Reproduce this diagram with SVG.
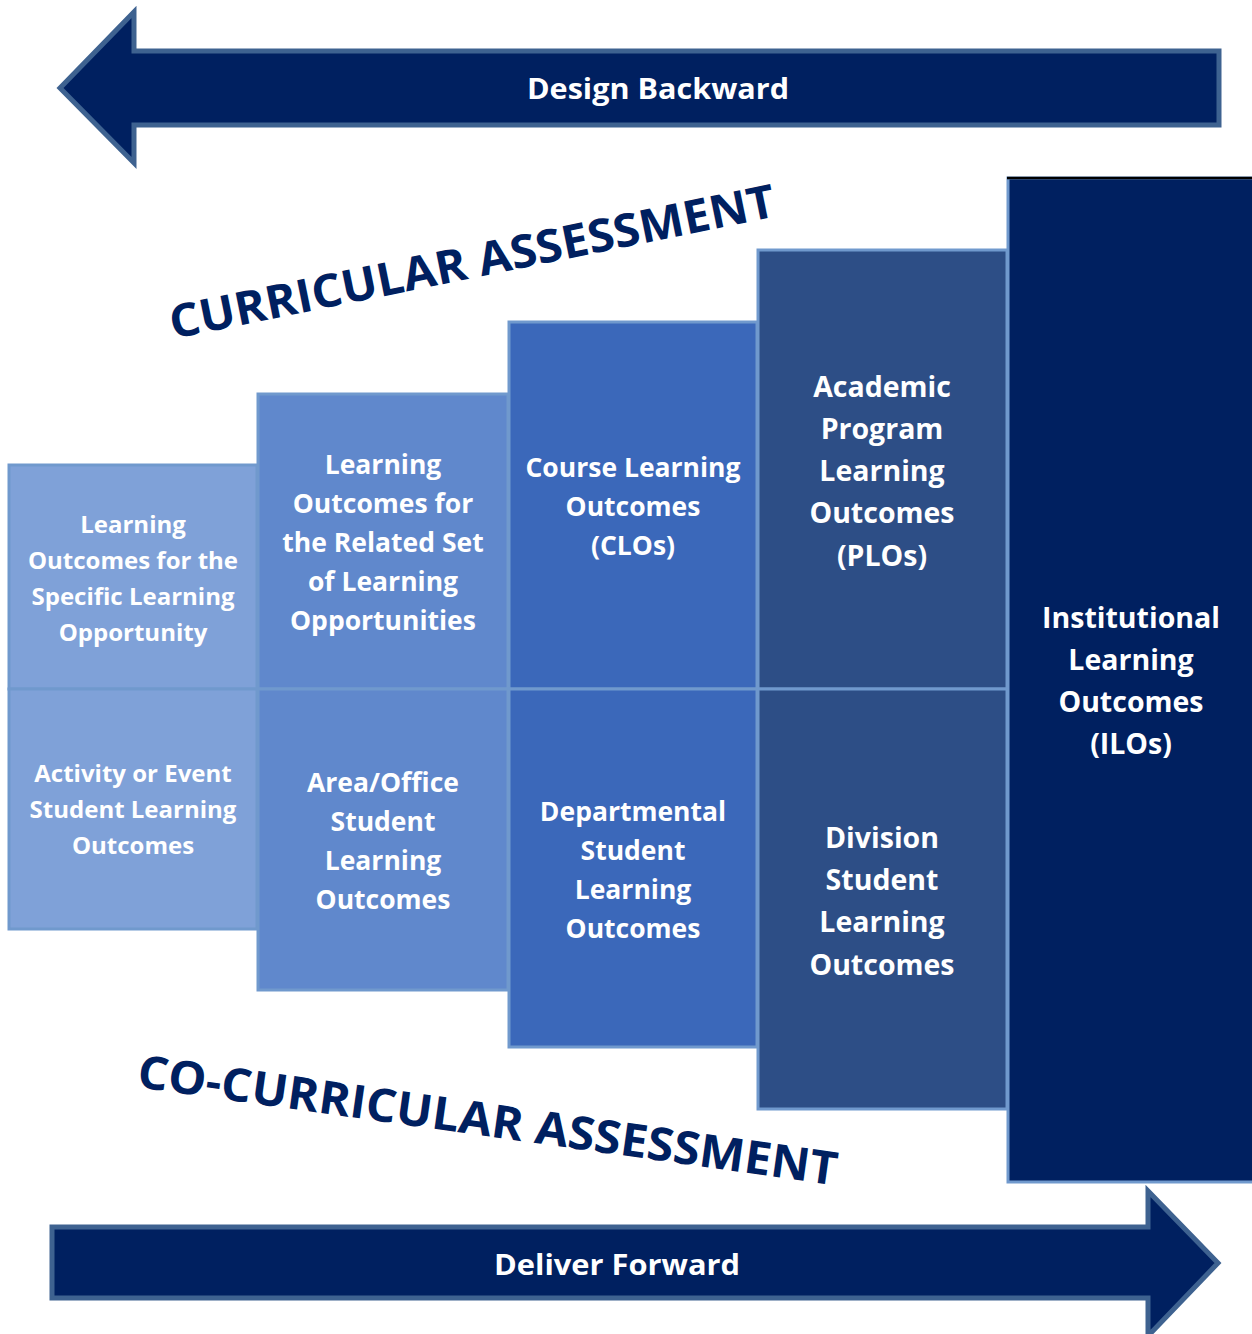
<svg xmlns="http://www.w3.org/2000/svg" width="1252" height="1334" viewBox="0 0 1252 1334">
<style>
.arrow{fill:#002060;stroke:#3E6290;stroke-width:5;stroke-linejoin:miter}
.box{stroke:#7099CD;stroke-width:3}
.c1{fill:#7FA1D8}.c2{fill:#6088CC}.c3{fill:#3B68BA}.c4{fill:#2D4E86}.c5{fill:#002060}
.lbl{font-family:"Open Sans","Liberation Sans",sans-serif;font-weight:700;fill:#FFFFFF;text-anchor:middle}
.title{font-family:"Open Sans","Liberation Sans",sans-serif;font-weight:700;fill:#002060}
</style>
<rect width="1252" height="1334" fill="#FFFFFF"/>
<g id="connectors">
<polygon class="arrow" points="60,88 134,12 134,51 1219,51 1219,125 134,125 134,163"/>
<polygon class="arrow" points="52,1227 1148,1227 1148,1191 1218,1263 1148,1336 1148,1298 52,1298"/>
<text class="lbl" x="658" y="99" font-size="29" textLength="262" lengthAdjust="spacingAndGlyphs">Design Backward</text>
<text class="lbl" x="617" y="1275" font-size="29" textLength="246" lengthAdjust="spacingAndGlyphs">Deliver Forward</text>
</g>
<g id="ilo">
<rect class="box c5" x="1008" y="178" width="246" height="1004"/>
<line x1="1007" y1="178" x2="1252" y2="178" stroke="#000000" stroke-width="2.5"/>
<text class="lbl" font-size="28.5"><tspan x="1131" y="628">Institutional</tspan><tspan x="1131" y="670">Learning</tspan><tspan x="1131" y="712">Outcomes</tspan><tspan x="1131" y="754">(ILOs)</tspan></text>
</g>
<g id="plo">
<rect class="box c4" x="758" y="250" width="249" height="439"/>
<text class="lbl" font-size="28.5"><tspan x="882" y="397">Academic</tspan><tspan x="882" y="439">Program</tspan><tspan x="882" y="481">Learning</tspan><tspan x="882" y="523">Outcomes</tspan><tspan x="882" y="566">(PLOs)</tspan></text>
</g>
<g id="division">
<rect class="box c4" x="758" y="689" width="249" height="420"/>
<text class="lbl" font-size="28.5"><tspan x="882" y="848">Division</tspan><tspan x="882" y="890">Student</tspan><tspan x="882" y="932">Learning</tspan><tspan x="882" y="975">Outcomes</tspan></text>
</g>
<g id="clo">
<rect class="box c3" x="509" y="322" width="248" height="367"/>
<text class="lbl" font-size="26.5"><tspan x="633" y="477">Course Learning</tspan><tspan x="633" y="516">Outcomes</tspan><tspan x="633" y="555">(CLOs)</tspan></text>
</g>
<g id="departmental">
<rect class="box c3" x="509" y="689" width="248" height="358"/>
<text class="lbl" font-size="26.5"><tspan x="633" y="821">Departmental</tspan><tspan x="633" y="860">Student</tspan><tspan x="633" y="899">Learning</tspan><tspan x="633" y="938">Outcomes</tspan></text>
</g>
<g id="related-set">
<rect class="box c2" x="258" y="394" width="250" height="295"/>
<text class="lbl" font-size="26.5"><tspan x="383" y="474">Learning</tspan><tspan x="383" y="513">Outcomes for</tspan><tspan x="383" y="552">the Related Set</tspan><tspan x="383" y="591">of Learning</tspan><tspan x="383" y="630">Opportunities</tspan></text>
</g>
<g id="area-office">
<rect class="box c2" x="258" y="689" width="250" height="301"/>
<text class="lbl" font-size="26.5"><tspan x="383" y="792">Area/Office</tspan><tspan x="383" y="831">Student</tspan><tspan x="383" y="870">Learning</tspan><tspan x="383" y="909">Outcomes</tspan></text>
</g>
<g id="specific">
<rect class="box c1" x="9" y="465" width="248" height="224"/>
<text class="lbl" font-size="24"><tspan x="133" y="533">Learning</tspan><tspan x="133" y="569">Outcomes for the</tspan><tspan x="133" y="605">Specific Learning</tspan><tspan x="133" y="641">Opportunity</tspan></text>
</g>
<g id="activity">
<rect class="box c1" x="9" y="689" width="248" height="240"/>
<text class="lbl" font-size="24"><tspan x="133" y="782">Activity or Event</tspan><tspan x="133" y="818">Student Learning</tspan><tspan x="133" y="854">Outcomes</tspan></text>
</g>
<text class="title" font-size="46" transform="translate(173,339) rotate(-11.5)" textLength="617" lengthAdjust="spacingAndGlyphs">CURRICULAR ASSESSMENT</text>
<text class="title" font-size="46" transform="translate(136,1087) rotate(8)" textLength="706" lengthAdjust="spacingAndGlyphs">CO-CURRICULAR ASSESSMENT</text>
</svg>
